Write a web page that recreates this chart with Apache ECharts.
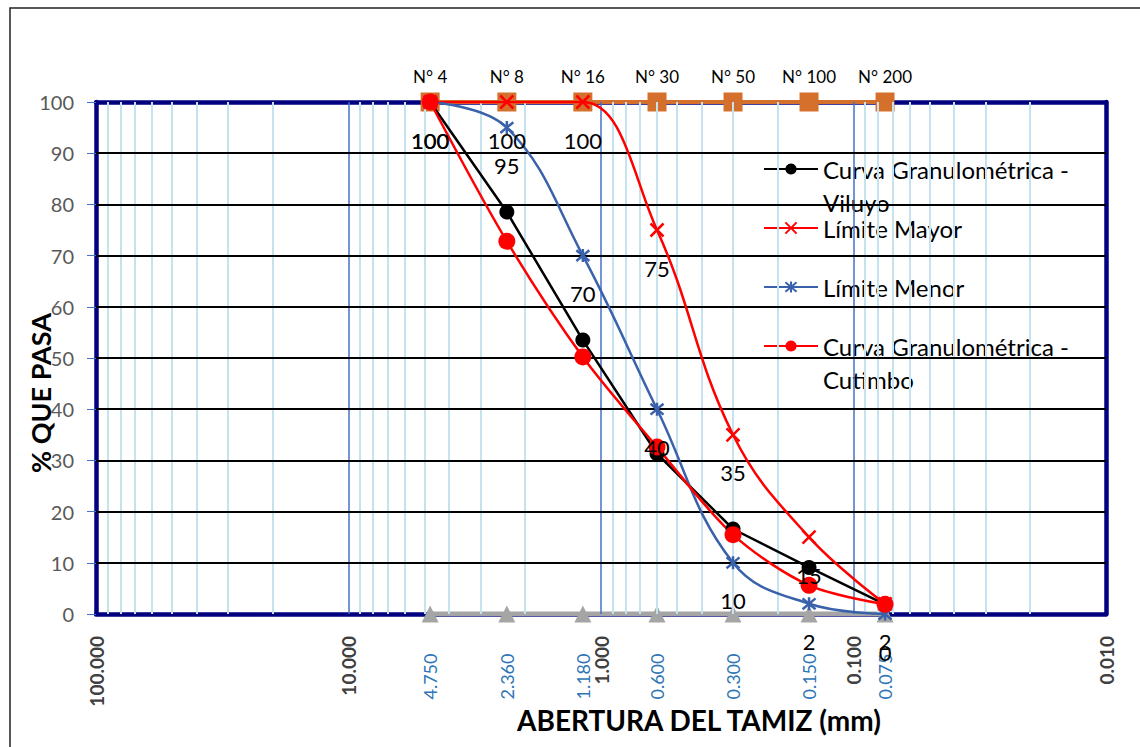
<!DOCTYPE html>
<html><head><meta charset="utf-8">
<script src="https://cdn.jsdelivr.net/npm/echarts@6/dist/echarts.min.js"></script>
<style>html,body{margin:0;padding:0;background:#fff}#c{width:1140px;height:747px}</style>
</head><body><div id="c"></div>
<script>
// ---- data ----
const sieveNames = ['N° 4', 'N° 8', 'N° 16', 'N° 30', 'N° 50', 'N° 100', 'N° 200'];
const sieveSizes = [4.75, 2.36, 1.18, 0.6, 0.3, 0.15, 0.075];
const viluyo = [100, 78.5, 53.5, 31.3, 16.6, 9.1, 1.9];
const limiteMayor = [100, 100, 100, 75, 35, 15, 2];
const limiteMenor = [100, 95, 70, 40, 10, 2, 0];
const cutimbo = [100, 72.8, 50.2, 32.6, 15.5, 5.6, 1.9];
const topRow = [100, 100, 100, 100, 100, 100, 100];
const baseRow = [0, 0, 0, 0, 0, 0, 0];
const minorGridX = [90, 80, 70, 60, 50, 40, 30, 20, 9, 8, 7, 6, 5, 4, 3, 2,
  0.9, 0.8, 0.7, 0.6, 0.5, 0.4, 0.3, 0.2, 0.09, 0.08, 0.07, 0.06, 0.05, 0.04, 0.03, 0.02];
const majorGridX = [10, 1, 0.1];
const gridY = [10, 20, 30, 40, 50, 60, 70, 80, 90];
const xTitle = 'ABERTURA DEL TAMIZ (mm)';
const yTitle = '% QUE PASA';
const legendNames = ['Curva Granulométrica - Viluyo', 'Límite Mayor', 'Límite Menor', 'Curva Granulométrica - Cutimbo'];

const pairs = arr => sieveSizes.map((s, i) => [s, arr[i]]);
const FONT = 'Lato';
const NAVY = '#000080';

const chart = echarts.init(document.getElementById('c'), null, {renderer: 'svg'});

const xLog = {
  type: 'log', logBase: 10, min: 0.01, max: 100, inverse: true,
};

const sharedLabel = {
  show: true, position: 'inside', offset: [0, 38],
  fontFamily: FONT, fontSize: 22, color: '#000',
  formatter: p => String(p.value[1])
};

const X_PATH = 'path://M0,0L10,10M10,0L0,10';
const STAR_PATH = 'path://M0,0L10,10M10,0L0,10M5,-1L5,11';

function legendBox(name, top, twoLine) {
  return {
    data: [name], left: 763, top: top, orient: 'vertical', padding: 0,
    itemWidth: 54, itemHeight: 14, selectedMode: false,
    formatter: n => twoLine ? '\n' + n.replace(' - ', ' -\n') : n,
    textStyle: {
      fontFamily: FONT, fontSize: 24, color: '#000', lineHeight: 33
    }
  };
}

const option = {
  animation: false,
  grid: {left: 96, right: 34, top: 102, bottom: 133},
  legend: [
    legendBox(legendNames[0], 119.5, true),
    legendBox(legendNames[1], 211.5, false),
    legendBox(legendNames[2], 270.5, false),
    legendBox(legendNames[3], 296.5, true)
  ],
  xAxis: [
    Object.assign({}, xLog, {
      position: 'bottom', z: 3,
      axisLine: {show: true, onZero: false, lineStyle: {color: NAVY, width: 4.5}},
      axisTick: {show: false},
      splitLine: {show: false},
      axisLabel: {
        rotate: 90, margin: 22, fontFamily: FONT, fontSize: 19, fontWeight: 'bold', color: '#404040',
        formatter: v => Number(v).toFixed(3)
      }
    }),
    Object.assign({}, xLog, {
      position: 'top', z: 3,
      axisLine: {show: true, onZero: false, lineStyle: {color: NAVY, width: 4.5}},
      axisTick: {show: false}, axisLabel: {show: false}, splitLine: {show: false}
    })
  ],
  yAxis: [
    {
      type: 'value', min: 0, max: 100, interval: 10, position: 'left', z: 3,
      axisLine: {show: true, lineStyle: {color: NAVY, width: 4.5}},
      axisTick: {show: true, length: 9, lineStyle: {color: '#4472c4', width: 1}},
      axisLabel: {margin: 22, fontFamily: FONT, fontSize: 20, color: '#595959'},
      splitLine: {show: false}
    },
    {
      type: 'value', min: 0, max: 100, interval: 10, position: 'right', z: 3,
      axisLine: {show: true, lineStyle: {color: NAVY, width: 4.5}},
      axisTick: {show: false}, axisLabel: {show: false}, splitLine: {show: false}
    }
  ],
  graphic: [
    {type: 'rect', shape: {x: 10, y: 8, width: 1160, height: 760}, style: {fill: 'none', stroke: '#222', lineWidth: 1.5}, z: -10},
    {type: 'text', x: 699, y: 720, style: {text: xTitle, font: 'bold 28px ' + FONT, fill: '#000', textAlign: 'center', textVerticalAlign: 'middle'}},
    {type: 'text', x: 40, y: 393, rotation: Math.PI / 2, style: {text: yTitle, font: 'bold 27px ' + FONT, fill: '#000', textAlign: 'center', textVerticalAlign: 'middle'}}
  ],
  series: [
    {
      name: 'gridMinor', type: 'line', data: [], z: 1, silent: true,
      markLine: {silent: true, symbol: 'none', label: {show: false}, animation: false,
        lineStyle: {color: '#c5e2ef', width: 2, type: 'solid'},
        data: minorGridX.map(v => ({xAxis: v}))}
    },
    {
      name: 'gridMajor', type: 'line', data: [], z: 1, silent: true,
      markLine: {silent: true, symbol: 'none', label: {show: false}, animation: false,
        lineStyle: {color: '#4472c4', width: 1.5, type: 'solid'},
        data: majorGridX.map(v => ({xAxis: v}))}
    },
    {
      name: 'gridH', type: 'line', data: [], z: 1, silent: true,
      markLine: {silent: true, symbol: 'none', label: {show: false}, animation: false,
        lineStyle: {color: '#000', width: 2, type: 'solid'},
        data: gridY.map(v => ({yAxis: v}))}
    },
    {
      name: 'Tamices', type: 'line', z: 4, silent: true,
      data: pairs(topRow), symbol: 'rect', symbolSize: 19,
      lineStyle: {color: '#d4702b', width: 4},
      itemStyle: {color: '#d4702b'},
      label: {show: true, position: 'inside', offset: [0, -26], fontFamily: FONT, fontSize: 17, color: '#000',
        formatter: p => sieveNames[p.dataIndex]}
    },
    {
      name: 'Aberturas', type: 'line', z: 4, silent: true,
      data: pairs(baseRow), symbol: 'triangle', symbolSize: 17,
      lineStyle: {color: '#a5a5a5', width: 5},
      itemStyle: {color: '#a5a5a5'},
      label: {show: true, position: 'bottom', distance: 31, rotate: 90, align: 'right', verticalAlign: 'middle',
        fontFamily: FONT, fontSize: 18, color: '#2e75b6',
        formatter: p => p.value[0].toFixed(3)}
    },
    {
      name: legendNames[0], type: 'line', z: 5,
      data: pairs(viluyo), symbol: 'circle', symbolSize: 15,
      lineStyle: {color: '#000', width: 2.5},
      itemStyle: {color: '#000'}
    },
    {
      name: legendNames[1], type: 'line', z: 5, smooth: 0.4,
      data: pairs(limiteMayor), symbol: X_PATH, symbolSize: 13,
      lineStyle: {color: '#ff0000', width: 2.5},
      itemStyle: {color: '#ff0000', borderColor: '#ff0000', borderWidth: 2.5},
      label: sharedLabel
    },
    {
      name: legendNames[2], type: 'line', z: 5, smooth: 0.4,
      data: pairs(limiteMenor), symbol: STAR_PATH, symbolSize: 13,
      lineStyle: {color: '#3a62ab', width: 2.5},
      itemStyle: {color: '#3a62ab', borderColor: '#3a62ab', borderWidth: 2.5},
      label: sharedLabel
    },
    {
      name: legendNames[3], type: 'line', z: 5, smooth: 0.3,
      data: pairs(cutimbo), symbol: 'circle', symbolSize: 17,
      lineStyle: {color: '#ff0000', width: 2.5},
      itemStyle: {color: '#ff0000'}
    }
  ]
};
chart.setOption(option);
</script>
</body></html>
